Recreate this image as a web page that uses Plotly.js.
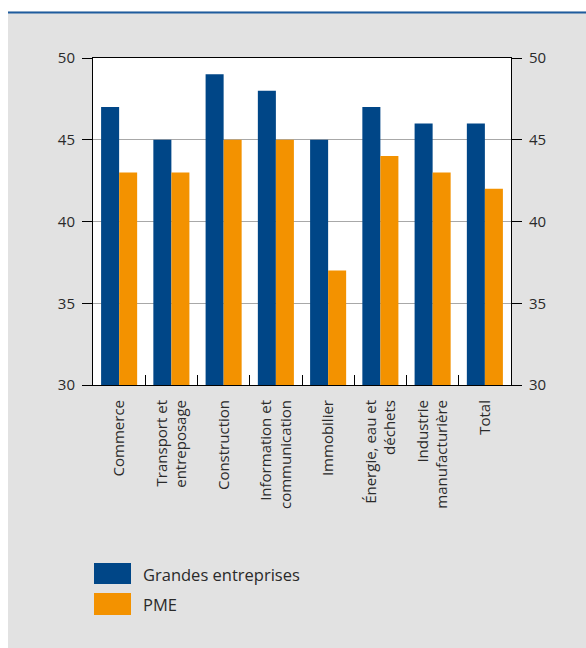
<!DOCTYPE html>
<html>
<head>
<meta charset="utf-8">
<script src="https://cdn.plot.ly/plotly-3.0.1.min.js"></script>
<style>html,body{margin:0;padding:0;background:#fff;}#chart{width:586px;height:648px;}</style>
</head>
<body>
<div id="chart"></div>
<script>
const categories = ["Commerce", "Transport et<br>entreposage", "Construction", "Information et<br>communication", "Immobilier", "Énergie, eau et<br>déchets", "Industrie<br>manufacturière", "Total"];
const seriesNames = ["Grandes entreprises", "PME"];
const grandes = [47, 45, 49, 48, 45, 47, 46, 46];
const pme = [43, 43, 45, 45, 37, 44, 43, 42];
const yTicks = [30, 35, 40, 45, 50];

const BLUE = "#004687";
const ORANGE = "#f39200";
const FONT = "Open Sans, sans-serif";
const TXT = "#2a2a2a";

const traces = [
  {type: "bar", x: categories, y: grandes, name: seriesNames[0], marker: {color: BLUE}, showlegend: false, hoverinfo: "skip"},
  {type: "bar", x: categories, y: pme, name: seriesNames[1], marker: {color: ORANGE}, showlegend: false, hoverinfo: "skip"},
  {type: "scatter", mode: "markers", x: [categories[0]], y: [null], yaxis: "y2", showlegend: false, hoverinfo: "skip"}
];

// plot area pixels: x 93..511, y 58..385
const W = 586, H = 648, L = 93, R = 511, T = 58, B = 385;
const px = v => (v - L) / (R - L);
const py = v => (B - v) / (B - T);

const shapes = [
  {type: "rect", xref: "paper", yref: "paper", x0: px(0), x1: px(W), y0: py(0), y1: py(11.5), fillcolor: "#ffffff", line: {width: 0}, layer: "above"},
  {type: "rect", xref: "paper", yref: "paper", x0: px(0), x1: px(8), y0: py(0), y1: py(H), fillcolor: "#ffffff", line: {width: 0}, layer: "above"},
  {type: "line", xref: "paper", yref: "paper", x0: px(8), x1: px(W), y0: py(12.5), y1: py(12.5), line: {color: "#1f5c9e", width: 2}},
  {type: "rect", xref: "paper", yref: "paper", x0: px(94), x1: px(131), y0: py(584), y1: py(563), fillcolor: BLUE, line: {width: 0}},
  {type: "rect", xref: "paper", yref: "paper", x0: px(94), x1: px(131), y0: py(615), y1: py(593), fillcolor: ORANGE, line: {width: 0}}
];
const annotations = [
  {xref: "paper", yref: "paper", x: px(141), y: py(574), xanchor: "left", yanchor: "middle", showarrow: false, text: seriesNames[0], font: {family: FONT, size: 16.5, color: TXT}},
  {xref: "paper", yref: "paper", x: px(141), y: py(604), xanchor: "left", yanchor: "middle", showarrow: false, text: seriesNames[1], font: {family: FONT, size: 16.5, color: TXT}}
];

const yAxisBase = {
  range: [30, 50], tickvals: yTicks, ticks: "outside", ticklen: 10, tickcolor: "#000", tickwidth: 1,
  showline: true, linecolor: "#000", linewidth: 1, zeroline: false, ticklabelstandoff: 4,
  tickfont: {family: FONT, size: 15, color: TXT}, fixedrange: true
};

const layout = {
  width: W, height: H,
  margin: {l: L, r: W - R, t: T, b: H - B, pad: 0},
  paper_bgcolor: "#e2e2e2", plot_bgcolor: "#ffffff",
  barmode: "group", bargap: 0.31, bargroupgap: 0,
  showlegend: false,
  xaxis: {
    type: "category", tickangle: -90, ticks: "inside", tickson: "boundaries", ticklen: 10,
    tickcolor: "#000", showline: true, mirror: true, linecolor: "#000", linewidth: 1,
    showgrid: false, tickfont: {family: FONT, size: 15, color: TXT}, ticklabelstandoff: 8, fixedrange: true
  },
  yaxis: Object.assign({}, yAxisBase, {showgrid: true, gridcolor: "#a8a8a8", gridwidth: 1}),
  yaxis2: Object.assign({}, yAxisBase, {overlaying: "y", side: "right", showgrid: false}),
  shapes: shapes, annotations: annotations
};

Plotly.newPlot("chart", traces, layout, {displayModeBar: false, staticPlot: true});
</script>
</body>
</html>
